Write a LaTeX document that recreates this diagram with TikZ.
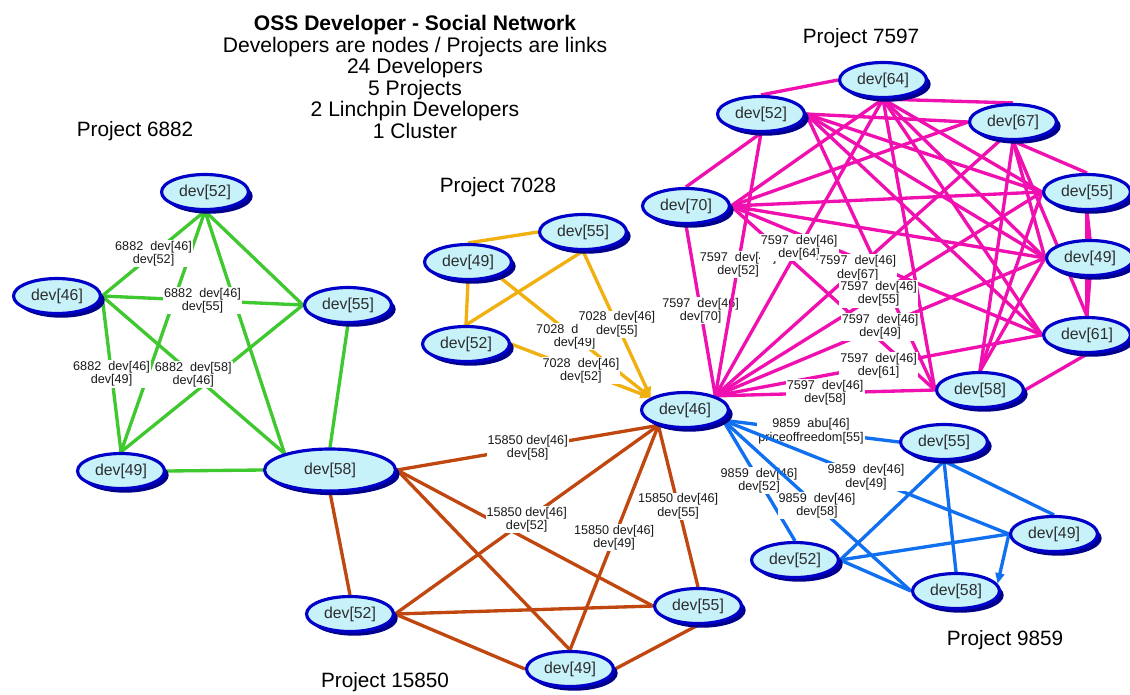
\documentclass[tikz,border=0pt]{standalone}
\usepackage{fontspec}
\setmainfont{Liberation Sans}
\usetikzlibrary{shapes.geometric, shadows, arrows.meta, backgrounds}
\definecolor{devfill}{RGB}{200,242,250}
\definecolor{devline}{RGB}{0,0,200}
\definecolor{devshade}{RGB}{0,0,140}
\definecolor{devtext}{RGB}{45,45,45}
\definecolor{c6882}{RGB}{64,200,48}
\definecolor{c7028}{RGB}{240,176,16}
\definecolor{c7597}{RGB}{240,16,176}
\definecolor{c9859}{RGB}{16,112,240}
\definecolor{c15850}{RGB}{192,72,16}

\begin{document}
\begin{tikzpicture}[x=0.02cm, y=-0.02cm,
	dev/.style={ellipse, draw=devline, line width=1.8pt, fill=devfill, text=devtext,
		minimum width=1.74cm, minimum height=0.7cm, inner sep=0pt,
		font=\fontsize{9}{9}\selectfont,
		drop shadow={shadow xshift=2.4pt, shadow yshift=-2.4pt, fill=devshade, opacity=1}},
	lbl/.style={fill=white, inner sep=0.6pt, align=center, text=black!90,
		font=\fontsize{7.2}{7.6}\selectfont},
	proj/.style={font=\fontsize{11.8}{12}\selectfont},
	grn/.style={draw=c6882, line width=1.9pt},
	orng/.style={draw=c7028, line width=1.9pt},
	mgnt/.style={draw=c7597, line width=1.9pt},
	blu/.style={draw=c9859, line width=1.9pt},
	brwn/.style={draw=c15850, line width=1.9pt},
	arrw/.style={-{Triangle[length=6pt, width=5pt]}}]
	\useasboundingbox (0,0) rectangle (1130,694);
	\node [align=center, font=\fontsize{12}{12.2}\selectfont] (title) at (415,77) {\textbf{OSS Developer - Social Network}\\Developers are nodes / Projects are links\\24 Developers\\5 Projects\\2 Linchpin Developers\\1 Cluster};
	\node [proj] (t6882) at (135,131) {Project 6882};
	\node [proj] (t7028) at (498,187) {Project 7028};
	\node [proj] (t7597) at (861,38) {Project 7597};
	\node [proj] (t9859) at (1005,640) {Project 9859};
	\node [proj] (t15850) at (385,682) {Project 15850};
	\node [dev] (g52) at (205,192) {dev[52]};
	\node [dev] (g46) at (57,296) {dev[46]};
	\node [dev] (g55) at (348,305) {dev[55]};
	\node [dev] (g49) at (121,471) {dev[49]};
	\node [dev, minimum width=2.62cm, minimum height=0.84cm] (s58) at (330,470) {dev[58]};
	\node [dev] (o55) at (583,232) {dev[55]};
	\node [dev] (o49) at (468,262) {dev[49]};
	\node [dev] (o52) at (466,344) {dev[52]};
	\node [dev] (c46) at (685,410) {dev[46]};
	\node [dev] (m64) at (883,80) {dev[64]};
	\node [dev] (m52) at (761,114) {dev[52]};
	\node [dev] (m67) at (1013,122) {dev[67]};
	\node [dev] (m70) at (686,206) {dev[70]};
	\node [dev] (m55) at (1087,192) {dev[55]};
	\node [dev] (m49) at (1090,258) {dev[49]};
	\node [dev] (m61) at (1087,335) {dev[61]};
	\node [dev] (m58) at (980,390) {dev[58]};
	\node [dev] (b55) at (944,442) {dev[55]};
	\node [dev] (b49) at (1054,534) {dev[49]};
	\node [dev] (b52) at (795,560) {dev[52]};
	\node [dev] (b58) at (956,591) {dev[58]};
	\node [dev] (r52) at (350,614) {dev[52]};
	\node [dev] (r55) at (698,606) {dev[55]};
	\node [dev] (r49) at (570,669) {dev[49]};
	\begin{scope}[on background layer]
	\draw [grn] (g52.south) -- (g55.west);
	\draw [grn] (g52.south) -- (g49.north);
	\draw [grn] (g52.south) -- (s58.160);
	\draw [grn] (g55.west) -- (g49.north);
	\draw [grn] (g55.south) -- (s58.north);
	\draw [grn] (g49.east) -- (s58.west);
	\draw [grn] (g46.east) -- node [lbl] {6882\ \ dev[46]\\dev[52]} (g52.south);
	\draw [grn] (g46.east) -- node [lbl] {6882\ \ dev[46]\\dev[55]} (g55.west);
	\draw [grn] (g46.east) -- node [lbl] {6882\ \ dev[46]\\dev[49]} (g49.north);
	\draw [grn] (g46.east) -- node [lbl] {6882\ \ dev[58]\\dev[46]} (s58.160);
	\draw [orng] (o49.north) -- (o55.west);
	\draw [orng] (o49.south) -- (o52.north);
	\draw [orng] (o52.north) -- (o55.south);
	\draw [orng, arrw] (o49.335) -- node [lbl] {7028\ \ dev[46]\\dev[49]} (c46.160);
	\draw [orng, arrw] (o55.south) -- node [lbl] {7028\ \ dev[46]\\dev[55]} (c46.160);
	\draw [orng, arrw] (o52.east) -- node [lbl] {7028\ \ dev[46]\\dev[52]} (c46.160);
	\foreach \a/\b in {m70.north/m52.south, m70.east/m64.south, m70.east/m67.west,
		m70.east/m55.west, m70.east/m49.west, m70.east/m61.west, m70.east/m58.west,
		m52.north/m64.west, m52.east/m67.west, m52.east/m55.west, m52.east/m49.west,
		m52.east/m61.west, m52.east/m58.west, m64.south/m67.north, m64.south/m55.west,
		m64.south/m49.west, m64.south/m61.west, m64.south/m58.west, m67.south/m55.north,
		m67.south/m49.west, m67.south/m61.north, m67.south/m58.north, m55.south/m49.north,
		m55.south/m61.north, m55.west/m58.north, m49.south/m61.north, m49.west/m58.north,
		m61.south/m58.east}
		\draw [mgnt] (\a) -- (\b);
	\draw [mgnt] (c46.25) -- node [lbl] {7597\ \ dev[46]\\dev[70]} (m70.south);
	\draw [mgnt] (c46.25) -- node [lbl] {7597\ \ dev[46]\\dev[52]} (m52.south);
	\draw [mgnt] (c46.25) -- node [lbl] {7597\ \ dev[46]\\dev[64]} (m64.south);
	\draw [mgnt] (c46.25) -- node [lbl] {7597\ \ dev[46]\\dev[67]} (m67.235);
	\draw [mgnt] (c46.25) -- node [lbl] {7597\ \ dev[46]\\dev[55]} (m55.west);
	\draw [mgnt] (c46.25) -- node [lbl] {7597\ \ dev[46]\\dev[49]} (m49.west);
	\draw [mgnt] (c46.25) -- node [lbl] {7597\ \ dev[46]\\dev[61]} (m61.west);
	\draw [mgnt] (c46.25) -- node [lbl] {7597\ \ dev[46]\\dev[58]} (m58.west);
	\draw [blu] (b55.south) -- (b52.east);
	\draw [blu] (b55.south) -- (b58.north);
	\draw [blu] (b55.south) -- (b49.north);
	\draw [blu] (b52.east) -- (b49.west);
	\draw [blu] (b52.east) -- (b58.west);
	\draw [blu, arrw] (b49.west) -- (b58.10);
	\draw [blu] (c46.345) -- node [lbl] {9859\ \ abu[46]\\priceoffreedom[55]} (b55.west);
	\draw [blu] (c46.345) -- node [lbl] {9859\ \ dev[46]\\dev[49]} (b49.west);
	\draw [blu] (c46.345) -- node [lbl] {9859\ \ dev[46]\\dev[52]} (b52.north);
	\draw [blu] (c46.345) -- node [lbl] {9859\ \ dev[46]\\dev[58]} (b58.west);
	\draw [brwn] (s58.south) -- (r52.north);
	\draw [brwn] (s58.east) -- (r49.north);
	\draw [brwn] (s58.east) -- (r55.west);
	\draw [brwn] (r52.east) -- (r55.west);
	\draw [brwn] (r52.east) -- (r49.west);
	\draw [brwn] (r49.east) -- (r55.south);
	\draw [brwn] (s58.east) -- node [lbl] {15850 dev[46]\\dev[58]} (c46.210);
	\draw [brwn] (r52.east) -- node [lbl] {15850 dev[46]\\dev[52]} (c46.210);
	\draw [brwn] (r49.north) -- node [lbl] {15850 dev[46]\\dev[49]} (c46.210);
	\draw [brwn] (r55.north) -- node [lbl] {15850 dev[46]\\dev[55]} (c46.210);
	\end{scope}
\end{tikzpicture}
\end{document}
